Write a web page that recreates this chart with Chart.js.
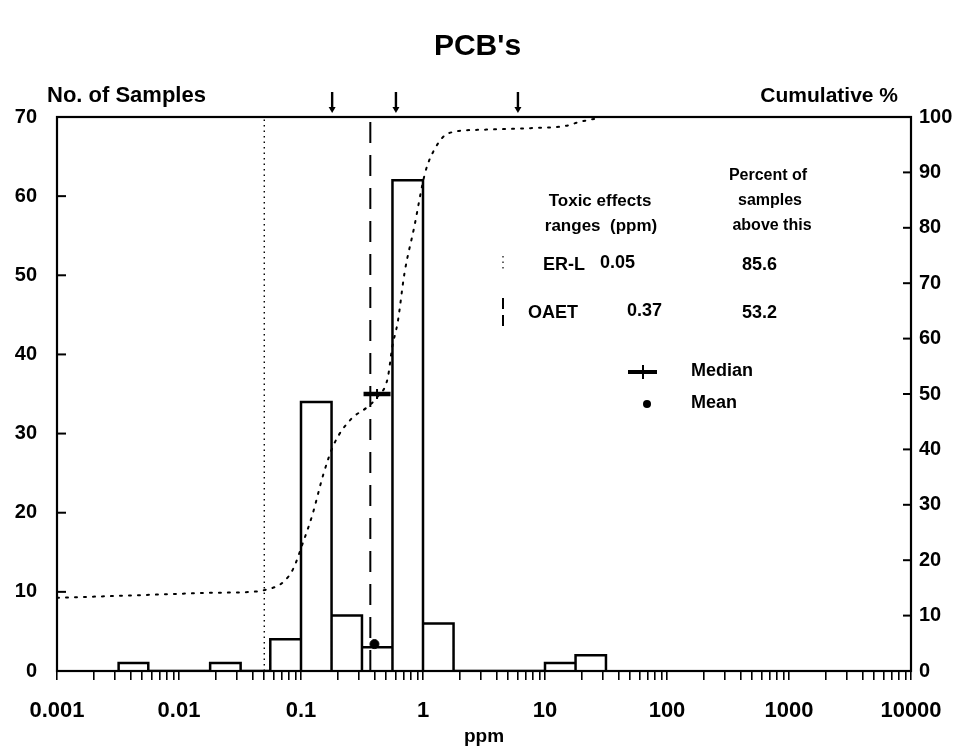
<!DOCTYPE html>
<html>
<head>
<meta charset="utf-8">
<title>PCB's</title>
<script src="https://cdn.jsdelivr.net/npm/chart.js@4.4.1/dist/chart.umd.min.js"></script>
<style>
  html, body { margin: 0; padding: 0; background: #fff; }
  canvas { display: block; }
</style>
</head>
<body>
<canvas id="chart" width="955" height="754"></canvas>
<script>
'use strict';

// histogram bins (ppm, quarter-decade wide) and sample counts
let binLo = [0.0032, 0.018, 0.056, 0.1, 0.178, 0.316, 0.562, 1, 10, 17.8];
let binHi = [0.0056, 0.032, 0.1, 0.178, 0.316, 0.562, 1, 1.78, 17.8, 31.6];
let binCount = [1, 1, 4, 34, 7, 3, 62, 6, 1, 2];

// cumulative percent curve
let cumPpm = [0.001, 0.0049, 0.0174, 0.040, 0.050, 0.072, 0.087, 0.102, 0.124, 0.152,
  0.185, 0.258, 0.343, 0.424, 0.514, 0.560, 0.621, 0.705, 0.847, 1.04,
  1.26, 1.63, 3.03, 7.8, 14.8, 19.1, 27.5];
let cumPct = [13.2, 13.7, 14.1, 14.3, 14.6, 16.1, 18.6, 22.7, 28.2, 35.4,
  40.8, 45.5, 47.5, 49.5, 52.9, 58.5, 63.0, 71.8, 80.1, 89.9,
  94.4, 97.1, 97.7, 98.0, 98.4, 99.1, 99.8];

// toxic effects thresholds
let thresholdName = ['ER-L', 'OAET'];
let thresholdPpm = [0.05, 0.37];
let percentAbove = [85.6, 53.2];

let medianPpm = 0.42;
let medianPct = 50;
let meanPpm = 0.40;
let meanCount = 3.4;

// arrows along the top edge
let arrowAt = [0.18, 0.6, 6];

// axis ticks
let decadeTicks = [0.001, 0.01, 0.1, 1, 10, 100, 1000, 10000];
let leftTicks = [0, 10, 20, 30, 40, 50, 60, 70];
let rightTicks = [0, 10, 20, 30, 40, 50, 60, 70, 80, 90, 100];

const FONT = '"Liberation Sans", Arial, Helvetica, sans-serif';
Chart.defaults.font.family = FONT;
Chart.defaults.color = '#000';

// outline of each bar as a closed path along the baseline
let histPoints = [];
for (let i = 0; i < binCount.length; i++) {
  histPoints.push({x: binLo[i], y: 0});
  histPoints.push({x: binLo[i], y: binCount[i]});
  histPoints.push({x: binHi[i], y: binCount[i]});
  histPoints.push({x: binHi[i], y: 0});
}

let cumPoints = [];
for (let i = 0; i < cumPpm.length; i++) {
  cumPoints.push({x: cumPpm[i], y: cumPct[i]});
}

// log ticks 1..9 in every decade
let xTicks = [];
for (let d = 0; d < decadeTicks.length; d++) {
  let base = decadeTicks[d];
  let last = d === decadeTicks.length - 1 ? 1 : 9;
  for (let m = 1; m <= last; m++) {
    xTicks.push(+(m * base).toPrecision(6));
  }
}

function line(ctx, x1, y1, x2, y2) {
  ctx.beginPath();
  ctx.moveTo(x1, y1);
  ctx.lineTo(x2, y2);
  ctx.stroke();
}

const overlay = {
  id: 'overlay',
  afterDatasetsDraw(chart) {
    const ctx = chart.ctx;
    const a = chart.chartArea;
    const sx = chart.scales.x;
    const sy = chart.scales.y;
    const sy2 = chart.scales.y2;
    ctx.save();
    ctx.strokeStyle = '#000';
    ctx.fillStyle = '#000';

    // frame
    ctx.lineWidth = 2.2;
    ctx.strokeRect(a.left, a.top, a.right - a.left, a.bottom - a.top);

    // inward ticks on both value axes
    ctx.lineWidth = 2;
    sy.ticks.forEach(t => {
      let py = sy.getPixelForValue(t.value);
      line(ctx, a.left, py, a.left + 9, py);
    });
    sy2.ticks.forEach(t => {
      let py = sy2.getPixelForValue(t.value);
      line(ctx, a.right - 8, py, a.right, py);
    });

    // arrows
    arrowAt.forEach(v => {
      let px = sx.getPixelForValue(v);
      ctx.lineWidth = 2.4;
      line(ctx, px, a.top - 25, px, a.top - 8);
      ctx.beginPath();
      ctx.moveTo(px - 3.5, a.top - 10);
      ctx.lineTo(px + 3.5, a.top - 10);
      ctx.lineTo(px, a.top - 4);
      ctx.closePath();
      ctx.fill();
    });

    // axis captions
    ctx.font = 'bold 22px ' + FONT;
    ctx.textBaseline = 'alphabetic';
    ctx.textAlign = 'left';
    ctx.fillText('No. of Samples', 47, 102);
    ctx.font = 'bold 21px ' + FONT;
    ctx.textAlign = 'right';
    ctx.fillText('Cumulative %', 898, 102);

    // threshold table
    ctx.font = 'bold 17px ' + FONT;
    ctx.textBaseline = 'middle';
    ctx.textAlign = 'center';
    ctx.fillText('Toxic effects', 600, 201);
    ctx.fillText('ranges  (ppm)', 601, 226);
    ctx.font = 'bold 16px ' + FONT;
    ctx.fillText('Percent of', 768, 176);
    ctx.fillText('samples', 770, 201);
    ctx.fillText('above this', 772, 226);

    ctx.font = 'bold 18px ' + FONT;
    ctx.textAlign = 'left';
    let rowY = [265, 313];
    let nameX = [543, 528];
    let valX = [600, 627];
    for (let i = 0; i < thresholdName.length; i++) {
      ctx.fillText(thresholdName[i], nameX[i], rowY[i]);
      ctx.fillText(String(thresholdPpm[i]), valX[i], rowY[i] - 2);
      ctx.fillText(percentAbove[i].toFixed(1), 742, rowY[i]);
    }

    // line style keys beside the table rows
    ctx.lineWidth = 1.2;
    ctx.setLineDash([1.5, 4]);
    line(ctx, 503, 256, 503, 270);
    ctx.lineWidth = 2;
    ctx.setLineDash([11, 6]);
    line(ctx, 503, 298, 503, 326);
    ctx.setLineDash([]);

    // median / mean key
    ctx.lineWidth = 4;
    line(ctx, 628, 372, 657, 372);
    ctx.lineWidth = 2;
    line(ctx, 643, 365, 643, 379);
    ctx.beginPath();
    ctx.arc(647, 404, 4, 0, Math.PI * 2);
    ctx.fill();
    ctx.font = 'bold 18px ' + FONT;
    ctx.fillText('Median', 691, 371);
    ctx.fillText('Mean', 691, 403);

    ctx.restore();
  }
};

let ctx = document.getElementById('chart');

new Chart(ctx, {
  type: 'line',
  data: {
    datasets: [
      {
        label: 'Median',
        data: [{x: medianPpm, y: medianPct}],
        yAxisID: 'y2',
        showLine: false,
        pointStyle: 'line',
        pointRadius: 13.5,
        pointBorderWidth: 4.5,
        pointBorderColor: '#000'
      },
      {
        label: 'Median tick',
        data: [{x: medianPpm, y: medianPct}],
        yAxisID: 'y2',
        showLine: false,
        pointStyle: 'line',
        rotation: 90,
        pointRadius: 5,
        pointBorderWidth: 2,
        pointBorderColor: '#000'
      },
      {
        label: 'Mean',
        data: [{x: meanPpm, y: meanCount}],
        yAxisID: 'y',
        showLine: false,
        pointStyle: 'circle',
        pointRadius: 4.5,
        pointBackgroundColor: '#000',
        pointBorderColor: '#000'
      },
      {
        label: 'Cumulative %',
        data: cumPoints,
        yAxisID: 'y2',
        borderColor: '#000',
        borderWidth: 2,
        borderDash: [2, 7],
        borderCapStyle: 'round',
        cubicInterpolationMode: 'monotone',
        pointRadius: 0,
        fill: false
      },
      {
        label: 'ER-L',
        data: [{x: thresholdPpm[0], y: 0}, {x: thresholdPpm[0], y: 70}],
        yAxisID: 'y',
        borderColor: '#000',
        borderWidth: 1.4,
        borderDash: [1.5, 4],
        pointRadius: 0
      },
      {
        label: 'OAET',
        data: [{x: thresholdPpm[1], y: 0}, {x: thresholdPpm[1], y: 70}],
        yAxisID: 'y',
        borderColor: '#000',
        borderWidth: 2,
        borderDash: [21, 12],
        pointRadius: 0
      },
      {
        label: 'No. of Samples',
        data: histPoints,
        yAxisID: 'y',
        borderColor: '#000',
        borderWidth: 2.5,
        borderJoinStyle: 'miter',
        tension: 0,
        pointRadius: 0,
        fill: false
      }
    ]
  },
  options: {
    responsive: false,
    animation: false,
    layout: {padding: 0},
    plugins: {
      legend: {display: false},
      tooltip: {enabled: false},
      title: {
        display: true,
        text: "PCB's",
        color: '#000',
        font: {size: 30, weight: 'bold', family: FONT},
        padding: {top: 29, bottom: 52}
      }
    },
    scales: {
      x: {
        type: 'logarithmic',
        min: 0.001,
        max: 10000,
        afterBuildTicks: scale => {
          scale.ticks = xTicks.map(v => ({value: v}));
        },
        afterFit: scale => {
          scale.height = 83;
        },
        ticks: {
          autoSkip: false,
          maxRotation: 0,
          padding: 12,
          font: {size: 22, weight: 'bold', lineHeight: 1.7},
          callback: value => decadeTicks.includes(value) ? String(value) : ''
        },
        grid: {
          drawOnChartArea: false,
          tickLength: 9,
          color: '#000',
          lineWidth: 1.6
        },
        border: {display: false},
        title: {
          display: true,
          text: 'ppm',
          font: {size: 19, weight: 'bold'},
          padding: {top: 4, bottom: 6}
        }
      },
      y: {
        position: 'left',
        min: 0,
        max: 70,
        afterBuildTicks: scale => {
          scale.ticks = leftTicks.map(v => ({value: v}));
        },
        afterFit: scale => {
          scale.width = 57;
        },
        ticks: {padding: 12, font: {size: 20, weight: 'bold'}},
        grid: {display: false},
        border: {display: false}
      },
      y2: {
        position: 'right',
        min: 0,
        max: 100,
        afterBuildTicks: scale => {
          scale.ticks = rightTicks.map(v => ({value: v}));
        },
        afterFit: scale => {
          scale.width = 44;
        },
        ticks: {padding: 0, font: {size: 20, weight: 'bold'}},
        grid: {display: false},
        border: {display: false}
      }
    }
  },
  plugins: [overlay]
});
</script>
</body>
</html>
